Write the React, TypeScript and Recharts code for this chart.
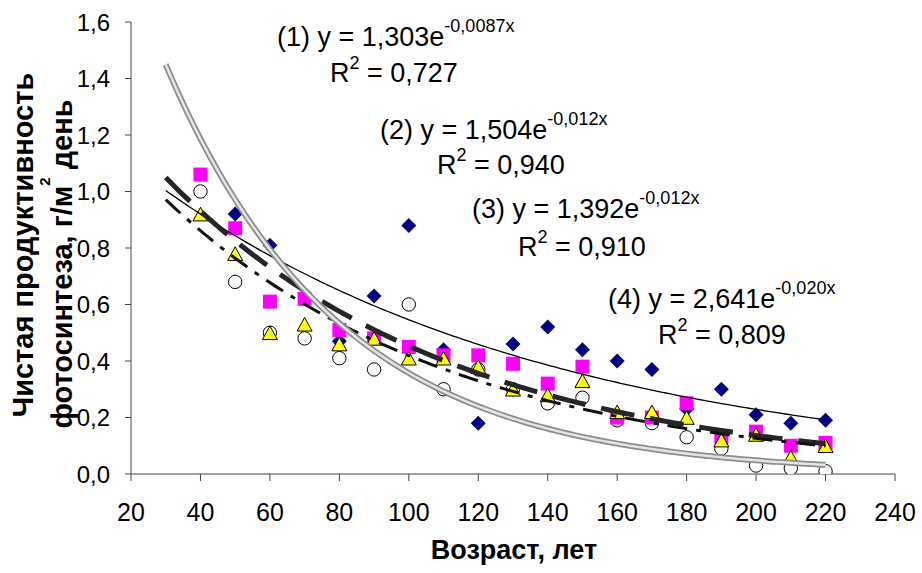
import React from 'react';
import { ComposedChart, Scatter, Line, XAxis, YAxis } from 'recharts';

const AGES = [40, 50, 60, 70, 80, 90, 100, 110, 120, 130, 140, 150, 160, 170, 180, 190, 200, 210, 220];
const S1_DIAMOND = [null, 0.92, 0.81, null, 0.47, 0.63, 0.88, 0.44, 0.18, 0.46, 0.52, 0.44, 0.40, 0.37, 0.23, 0.30, 0.21, 0.18, 0.19];
const S2_SQUARE = [1.06, 0.87, 0.61, 0.62, 0.51, 0.48, 0.45, 0.42, 0.42, 0.39, 0.32, 0.38, 0.20, 0.20, 0.25, 0.13, 0.15, 0.10, 0.11];
const S3_TRIANGLE = [0.92, 0.78, 0.50, 0.53, 0.46, 0.48, 0.41, 0.41, 0.38, 0.30, 0.28, 0.33, 0.22, 0.22, 0.20, 0.12, 0.14, 0.06, 0.10];
const S4_CIRCLE = [1.00, 0.68, 0.50, 0.48, 0.41, 0.37, 0.60, 0.30, 0.37, 0.30, 0.25, 0.27, 0.19, 0.18, 0.13, 0.09, 0.03, 0.02, 0.01];

// trend equations as printed on the chart: y = a * e^(b x)
const TREND1 = { a: 1.303, b: -0.0087 };
const TREND2 = { a: 1.504, b: -0.012 };
const TREND3 = { a: 1.392, b: -0.012 };
const TREND4 = { a: 2.641, b: -0.020 };
const TREND_FROM = 30;
const TREND_TO = 220;

const X_TICKS = [20, 40, 60, 80, 100, 120, 140, 160, 180, 200, 220, 240];
const Y_TICKS = [0, 0.2, 0.4, 0.6, 0.8, 1.0, 1.2, 1.4, 1.6];

const FONT = '"Liberation Sans", Arial, sans-serif';

const toPoints = (vals: (number | null)[]) =>
  AGES.map((x, i) => ({ x, y: vals[i] })).filter((p) => p.y !== null);

const trend = (t: { a: number; b: number }) => {
  const out: { x: number; y: number }[] = [];
  for (let x = TREND_FROM; x <= TREND_TO; x += 1) out.push({ x, y: t.a * Math.exp(t.b * x) });
  return out;
};

const Diamond = (p: any) => {
  const { cx, cy } = p;
  if (cx == null || cy == null) return null;
  const r = 7.5;
  return <path d={`M${cx},${cy - r}L${cx + r},${cy}L${cx},${cy + r}L${cx - r},${cy}Z`} fill="#000080" />;
};
const Square = (p: any) => {
  const { cx, cy } = p;
  if (cx == null || cy == null) return null;
  const h = 7;
  return <rect x={cx - h} y={cy - h} width={2 * h} height={2 * h} fill="#FF00FF" />;
};
const Triangle = (p: any) => {
  const { cx, cy } = p;
  if (cx == null || cy == null) return null;
  const w = 7.5;
  const h = 6.8;
  return (
    <path
      d={`M${cx},${cy - h}L${cx + w},${cy + h}L${cx - w},${cy + h}Z`}
      fill="#FFFF00"
      stroke="#000"
      strokeWidth={1}
    />
  );
};
const Circle = (p: any) => {
  const { cx, cy } = p;
  if (cx == null || cy == null) return null;
  return <circle cx={cx} cy={cy} r={6.7} fill="#fff" stroke="#000" strokeWidth={1} />;
};

const fmt = (v: number) => v.toFixed(1).replace('.', ',');

export default function App() {
  const t1 = trend(TREND1);
  const t2 = trend(TREND2);
  const t3 = trend(TREND3);
  const t4 = trend(TREND4);
  const eqStyle = { fontFamily: FONT, fontSize: 27, fill: '#000' } as const;
  const SUP = 18;
  return (
    <div style={{ position: 'absolute', left: 0, top: 0, width: 922, height: 573, background: '#fff' }}>
      <ComposedChart width={922} height={573} margin={{ top: 22, right: 27, bottom: 39, left: 0 }}>
        <XAxis
          type="number"
          dataKey="x"
          domain={[20, 240]}
          ticks={X_TICKS}
          interval={0}
          allowDataOverflow
          height={60}
          stroke="#444"
          tickSize={7}
          tickMargin={22}
          tick={{ fill: '#000', fontSize: 25, fontFamily: FONT }}
        />
        <YAxis
          type="number"
          dataKey="y"
          domain={[0, 1.6]}
          ticks={Y_TICKS}
          interval={0}
          allowDataOverflow
          width={131}
          stroke="#444"
          tickSize={6}
          tickMargin={15}
          tickFormatter={fmt}
          tick={{ fill: '#000', fontSize: 24, fontFamily: FONT }}
        />
        <Scatter data={toPoints(S4_CIRCLE)} shape={Circle} isAnimationActive={false} />
        <Scatter data={toPoints(S1_DIAMOND)} shape={Diamond} isAnimationActive={false} />
        <Scatter data={toPoints(S2_SQUARE)} shape={Square} isAnimationActive={false} />
        <Scatter data={toPoints(S3_TRIANGLE)} shape={Triangle} isAnimationActive={false} />
        <Line data={t1} dataKey="y" type="linear" dot={false} activeDot={false} stroke="#000" strokeWidth={1.3} isAnimationActive={false} zIndex={700} />
        <Line data={t2} dataKey="y" type="linear" dot={false} activeDot={false} stroke="#262626" strokeWidth={5} strokeDasharray="34 16" isAnimationActive={false} zIndex={700} />
        <Line data={t3} dataKey="y" type="linear" dot={false} activeDot={false} stroke="#111" strokeWidth={3} strokeDasharray="20 9 5 9" isAnimationActive={false} zIndex={700} />
        <Line data={t4} dataKey="y" type="linear" dot={false} activeDot={false} stroke="#8c8c8c" strokeWidth={6} isAnimationActive={false} zIndex={700} />
        <Line data={t4} dataKey="y" type="linear" dot={false} activeDot={false} stroke="#e4e4e4" strokeWidth={2.5} isAnimationActive={false} zIndex={701} />
      </ComposedChart>
      <svg width={922} height={573} style={{ position: 'absolute', left: 0, top: 0, pointerEvents: 'none' }}>
        <text x={277} y={46} style={eqStyle}>
          (1) y = 1,303e<tspan fontSize={SUP} dy={-14}>-0,0087x</tspan>
        </text>
        <text x={330} y={82} style={eqStyle}>
          R<tspan fontSize={SUP} dy={-13}>2</tspan><tspan dy={13}> = 0,727</tspan>
        </text>
        <text x={380} y={139} style={eqStyle}>
          (2) y = 1,504e<tspan fontSize={SUP} dy={-14}>-0,012x</tspan>
        </text>
        <text x={437} y={174} style={eqStyle}>
          R<tspan fontSize={SUP} dy={-13}>2</tspan><tspan dy={13}> = 0,940</tspan>
        </text>
        <text x={472} y={218} style={eqStyle}>
          (3) y = 1,392e<tspan fontSize={SUP} dy={-14}>-0,012x</tspan>
        </text>
        <text x={518} y={256} style={eqStyle}>
          R<tspan fontSize={SUP} dy={-13}>2</tspan><tspan dy={13}> = 0,910</tspan>
        </text>
        <text x={608} y={308} style={eqStyle}>
          (4) y = 2,641e<tspan fontSize={SUP} dy={-14}>-0,020x</tspan>
        </text>
        <text x={658} y={344} style={eqStyle}>
          R<tspan fontSize={SUP} dy={-13}>2</tspan><tspan dy={13}> = 0,809</tspan>
        </text>
        <text x={514} y={559} textAnchor="middle" style={{ fontFamily: FONT, fontSize: 27, fontWeight: 'bold', fill: '#000' }}>
          Возраст, лет
        </text>
        <text
          transform="translate(33,245) rotate(-90)"
          textAnchor="middle"
          style={{ fontFamily: FONT, fontSize: 29, fontWeight: 'bold', fill: '#000' }}
        >
          Чистая продуктивность
        </text>
        <text
          transform="translate(72,264) rotate(-90)"
          textAnchor="middle"
          style={{ fontFamily: FONT, fontSize: 29, fontWeight: 'bold', fill: '#000' }}
        >
          фотосинтеза, г/м<tspan fontSize={15} dy={-22}>2</tspan><tspan dy={22}> день</tspan>
        </text>
      </svg>
    </div>
  );
}
